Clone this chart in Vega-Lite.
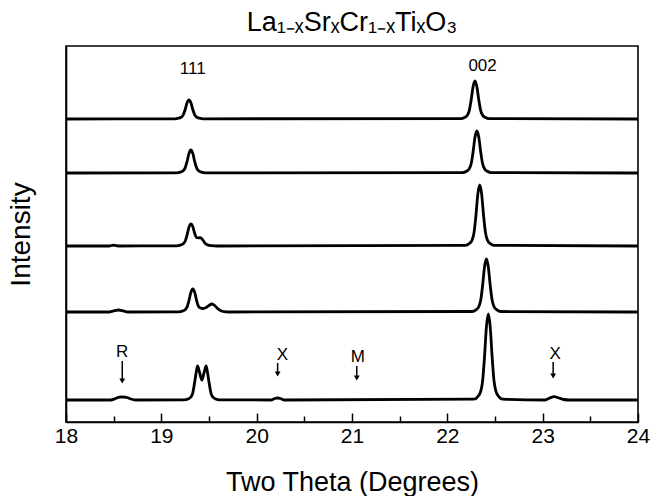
{
  "$schema": "https://vega.github.io/schema/vega-lite/v6.json",
  "width": 572,
  "height": 376,
  "autosize": {"type": "none"},
  "padding": {"left": 66, "top": 46, "right": 15, "bottom": 74},
  "background": "white",
  "title": {"text": "La₁₋ₓSrₓCr₁₋ₓTiₓO₃", "font": "Liberation Sans", "fontSize": 27, "fontWeight": "normal", "color": "black", "offset": 9},
  "config": {
    "view": {"stroke": "black", "strokeWidth": 1.6},
    "font": "Liberation Sans"
  },
  "datasets": {
    "traces": [
      {"s": "A", "theta": 18.0, "intensity": 303},
      {"s": "A", "theta": 19.14, "intensity": 303.2},
      {"s": "A", "theta": 19.18, "intensity": 303.8},
      {"s": "A", "theta": 19.21, "intensity": 304.9},
      {"s": "A", "theta": 19.23, "intensity": 307.2},
      {"s": "A", "theta": 19.25, "intensity": 312.5},
      {"s": "A", "theta": 19.27, "intensity": 319.2},
      {"s": "A", "theta": 19.29, "intensity": 322},
      {"s": "A", "theta": 19.31, "intensity": 319.2},
      {"s": "A", "theta": 19.33, "intensity": 312.5},
      {"s": "A", "theta": 19.35, "intensity": 307.2},
      {"s": "A", "theta": 19.37, "intensity": 304.9},
      {"s": "A", "theta": 19.40, "intensity": 303.8},
      {"s": "A", "theta": 19.44, "intensity": 303.2},
      {"s": "A", "theta": 22.14, "intensity": 303.4},
      {"s": "A", "theta": 22.18, "intensity": 304.5},
      {"s": "A", "theta": 22.21, "intensity": 306.8},
      {"s": "A", "theta": 22.23, "intensity": 311.4},
      {"s": "A", "theta": 22.25, "intensity": 322},
      {"s": "A", "theta": 22.27, "intensity": 335.3},
      {"s": "A", "theta": 22.29, "intensity": 341},
      {"s": "A", "theta": 22.31, "intensity": 335.3},
      {"s": "A", "theta": 22.33, "intensity": 322},
      {"s": "A", "theta": 22.35, "intensity": 311.4},
      {"s": "A", "theta": 22.37, "intensity": 306.8},
      {"s": "A", "theta": 22.40, "intensity": 304.5},
      {"s": "A", "theta": 22.44, "intensity": 303.4},
      {"s": "A", "theta": 24.0, "intensity": 303},

      {"s": "B", "theta": 18.0, "intensity": 249},
      {"s": "B", "theta": 19.16, "intensity": 249.2},
      {"s": "B", "theta": 19.20, "intensity": 249.9},
      {"s": "B", "theta": 19.23, "intensity": 251.3},
      {"s": "B", "theta": 19.25, "intensity": 254.1},
      {"s": "B", "theta": 19.27, "intensity": 260.5},
      {"s": "B", "theta": 19.29, "intensity": 268.6},
      {"s": "B", "theta": 19.31, "intensity": 272},
      {"s": "B", "theta": 19.33, "intensity": 268.6},
      {"s": "B", "theta": 19.35, "intensity": 260.5},
      {"s": "B", "theta": 19.37, "intensity": 254.1},
      {"s": "B", "theta": 19.39, "intensity": 251.3},
      {"s": "B", "theta": 19.42, "intensity": 249.9},
      {"s": "B", "theta": 19.46, "intensity": 249.2},
      {"s": "B", "theta": 22.16, "intensity": 249.4},
      {"s": "B", "theta": 22.20, "intensity": 250.7},
      {"s": "B", "theta": 22.23, "intensity": 253.2},
      {"s": "B", "theta": 22.25, "intensity": 258.2},
      {"s": "B", "theta": 22.27, "intensity": 270},
      {"s": "B", "theta": 22.29, "intensity": 284.7},
      {"s": "B", "theta": 22.31, "intensity": 291},
      {"s": "B", "theta": 22.33, "intensity": 284.7},
      {"s": "B", "theta": 22.35, "intensity": 270},
      {"s": "B", "theta": 22.37, "intensity": 258.2},
      {"s": "B", "theta": 22.39, "intensity": 253.2},
      {"s": "B", "theta": 22.42, "intensity": 250.7},
      {"s": "B", "theta": 22.46, "intensity": 249.4},
      {"s": "B", "theta": 24.0, "intensity": 249},

      {"s": "C", "theta": 18.0, "intensity": 176},
      {"s": "C", "theta": 18.45, "intensity": 176},
      {"s": "C", "theta": 18.5, "intensity": 176.8},
      {"s": "C", "theta": 18.55, "intensity": 176},
      {"s": "C", "theta": 19.16, "intensity": 176.2},
      {"s": "C", "theta": 19.20, "intensity": 176.9},
      {"s": "C", "theta": 19.23, "intensity": 178.2},
      {"s": "C", "theta": 19.25, "intensity": 180.8},
      {"s": "C", "theta": 19.27, "intensity": 187},
      {"s": "C", "theta": 19.29, "intensity": 194.7},
      {"s": "C", "theta": 19.31, "intensity": 198},
      {"s": "C", "theta": 19.33, "intensity": 195.4},
      {"s": "C", "theta": 19.35, "intensity": 188.5},
      {"s": "C", "theta": 19.37, "intensity": 184.3},
      {"s": "C", "theta": 19.39, "intensity": 184.2},
      {"s": "C", "theta": 19.41, "intensity": 184.3},
      {"s": "C", "theta": 19.43, "intensity": 182.7},
      {"s": "C", "theta": 19.45, "intensity": 179.9},
      {"s": "C", "theta": 19.47, "intensity": 177.8},
      {"s": "C", "theta": 19.49, "intensity": 176.9},
      {"s": "C", "theta": 19.53, "intensity": 176.3},
      {"s": "C", "theta": 19.58, "intensity": 176},
      {"s": "C", "theta": 22.19, "intensity": 176.6},
      {"s": "C", "theta": 22.23, "intensity": 178.4},
      {"s": "C", "theta": 22.26, "intensity": 182.1},
      {"s": "C", "theta": 22.28, "intensity": 189.4},
      {"s": "C", "theta": 22.30, "intensity": 206.5},
      {"s": "C", "theta": 22.32, "intensity": 227.9},
      {"s": "C", "theta": 22.34, "intensity": 237},
      {"s": "C", "theta": 22.36, "intensity": 227.9},
      {"s": "C", "theta": 22.38, "intensity": 206.5},
      {"s": "C", "theta": 22.40, "intensity": 189.4},
      {"s": "C", "theta": 22.42, "intensity": 182.1},
      {"s": "C", "theta": 22.45, "intensity": 178.4},
      {"s": "C", "theta": 22.49, "intensity": 176.6},
      {"s": "C", "theta": 24.0, "intensity": 176},

      {"s": "D", "theta": 18.0, "intensity": 110},
      {"s": "D", "theta": 18.45, "intensity": 110},
      {"s": "D", "theta": 18.50, "intensity": 111.2},
      {"s": "D", "theta": 18.55, "intensity": 112},
      {"s": "D", "theta": 18.60, "intensity": 111.2},
      {"s": "D", "theta": 18.65, "intensity": 110},
      {"s": "D", "theta": 19.18, "intensity": 110.2},
      {"s": "D", "theta": 19.22, "intensity": 110.9},
      {"s": "D", "theta": 19.25, "intensity": 112.3},
      {"s": "D", "theta": 19.27, "intensity": 115.1},
      {"s": "D", "theta": 19.29, "intensity": 121.5},
      {"s": "D", "theta": 19.31, "intensity": 129.6},
      {"s": "D", "theta": 19.33, "intensity": 133},
      {"s": "D", "theta": 19.35, "intensity": 129.6},
      {"s": "D", "theta": 19.37, "intensity": 121.5},
      {"s": "D", "theta": 19.39, "intensity": 115.5},
      {"s": "D", "theta": 19.41, "intensity": 114},
      {"s": "D", "theta": 19.44, "intensity": 113.5},
      {"s": "D", "theta": 19.47, "intensity": 114.5},
      {"s": "D", "theta": 19.50, "intensity": 116.5},
      {"s": "D", "theta": 19.53, "intensity": 118},
      {"s": "D", "theta": 19.56, "intensity": 116.5},
      {"s": "D", "theta": 19.59, "intensity": 113.5},
      {"s": "D", "theta": 19.62, "intensity": 111.5},
      {"s": "D", "theta": 19.66, "intensity": 110.3},
      {"s": "D", "theta": 19.70, "intensity": 110},
      {"s": "D", "theta": 22.26, "intensity": 110.5},
      {"s": "D", "theta": 22.30, "intensity": 112.1},
      {"s": "D", "theta": 22.33, "intensity": 115.3},
      {"s": "D", "theta": 22.35, "intensity": 121.7},
      {"s": "D", "theta": 22.37, "intensity": 136.5},
      {"s": "D", "theta": 22.39, "intensity": 155},
      {"s": "D", "theta": 22.41, "intensity": 163},
      {"s": "D", "theta": 22.43, "intensity": 155},
      {"s": "D", "theta": 22.45, "intensity": 136.5},
      {"s": "D", "theta": 22.47, "intensity": 121.7},
      {"s": "D", "theta": 22.49, "intensity": 115.3},
      {"s": "D", "theta": 22.52, "intensity": 112.1},
      {"s": "D", "theta": 22.56, "intensity": 110.5},
      {"s": "D", "theta": 24.0, "intensity": 110},

      {"s": "E", "theta": 18.0, "intensity": 22},
      {"s": "E", "theta": 18.47, "intensity": 22},
      {"s": "E", "theta": 18.52, "intensity": 23.5},
      {"s": "E", "theta": 18.56, "intensity": 24.8},
      {"s": "E", "theta": 18.60, "intensity": 25},
      {"s": "E", "theta": 18.64, "intensity": 24.5},
      {"s": "E", "theta": 18.68, "intensity": 23},
      {"s": "E", "theta": 18.73, "intensity": 22},
      {"s": "E", "theta": 19.24, "intensity": 22.2},
      {"s": "E", "theta": 19.28, "intensity": 23},
      {"s": "E", "theta": 19.31, "intensity": 25},
      {"s": "E", "theta": 19.33, "intensity": 29},
      {"s": "E", "theta": 19.35, "intensity": 40},
      {"s": "E", "theta": 19.37, "intensity": 52},
      {"s": "E", "theta": 19.38, "intensity": 56},
      {"s": "E", "theta": 19.40, "intensity": 50},
      {"s": "E", "theta": 19.425, "intensity": 42},
      {"s": "E", "theta": 19.45, "intensity": 50},
      {"s": "E", "theta": 19.47, "intensity": 56},
      {"s": "E", "theta": 19.48, "intensity": 52},
      {"s": "E", "theta": 19.50, "intensity": 40},
      {"s": "E", "theta": 19.52, "intensity": 29},
      {"s": "E", "theta": 19.54, "intensity": 25},
      {"s": "E", "theta": 19.57, "intensity": 23},
      {"s": "E", "theta": 19.61, "intensity": 22.2},
      {"s": "E", "theta": 20.15, "intensity": 22},
      {"s": "E", "theta": 20.19, "intensity": 23.5},
      {"s": "E", "theta": 20.22, "intensity": 24},
      {"s": "E", "theta": 20.25, "intensity": 23.5},
      {"s": "E", "theta": 20.29, "intensity": 22},
      {"s": "E", "theta": 22.28, "intensity": 22.9},
      {"s": "E", "theta": 22.32, "intensity": 25.4},
      {"s": "E", "theta": 22.35, "intensity": 30.6},
      {"s": "E", "theta": 22.37, "intensity": 40.9},
      {"s": "E", "theta": 22.39, "intensity": 65},
      {"s": "E", "theta": 22.41, "intensity": 95},
      {"s": "E", "theta": 22.43, "intensity": 108},
      {"s": "E", "theta": 22.45, "intensity": 95},
      {"s": "E", "theta": 22.47, "intensity": 65},
      {"s": "E", "theta": 22.49, "intensity": 40.9},
      {"s": "E", "theta": 22.51, "intensity": 30.6},
      {"s": "E", "theta": 22.54, "intensity": 25.4},
      {"s": "E", "theta": 22.58, "intensity": 22.9},
      {"s": "E", "theta": 23.02, "intensity": 22},
      {"s": "E", "theta": 23.07, "intensity": 23.8},
      {"s": "E", "theta": 23.12, "intensity": 25.3},
      {"s": "E", "theta": 23.17, "intensity": 24},
      {"s": "E", "theta": 23.22, "intensity": 22.5},
      {"s": "E", "theta": 23.28, "intensity": 22},
      {"s": "E", "theta": 24.0, "intensity": 22}
    ],
    "peaklabels": [
      {"label": "111", "theta": 19.33, "intensity": 353},
      {"label": "002", "theta": 22.37, "intensity": 356}
    ],
    "arrows": [
      {"label": "R", "theta": 18.59, "ltheta": 18.59, "intensity": 61, "intensity2": 41, "lint": 70},
      {"label": "X", "theta": 20.22, "ltheta": 20.27, "intensity": 59, "intensity2": 48, "lint": 67},
      {"label": "M", "theta": 21.05, "ltheta": 21.06, "intensity": 56, "intensity2": 44, "lint": 65},
      {"label": "X", "theta": 23.11, "ltheta": 23.13, "intensity": 60, "intensity2": 46, "lint": 68}
    ]
  },
  "layer": [
    {
      "data": {"name": "traces"},
      "mark": {"type": "line", "color": "black", "strokeWidth": 2.8, "interpolate": "monotone"},
      "encoding": {
        "x": {
          "field": "theta", "type": "quantitative",
          "scale": {"domain": [18, 24], "nice": false},
          "axis": {
            "title": "Two Theta (Degrees)",
            "titleFont": "Liberation Sans", "titleFontSize": 27, "titleFontWeight": "normal", "titleColor": "black",
            "titlePadding": 20,
            "values": [18, 18.5, 19, 19.5, 20, 20.5, 21, 21.5, 22, 22.5, 23, 23.5, 24],
            "labelExpr": "datum.value % 1 === 0 ? format(datum.value, 'd') : ''",
            "labelFont": "Liberation Sans", "labelFontSize": 21, "labelColor": "black",
            "labelPadding": 12,
            "labelFlush": false,
            "labelOverlap": false,
            "tickSize": {"condition": {"test": "datum.value % 1 === 0", "value": -9}, "value": -6},
            "tickColor": "black", "tickWidth": 1.5,
            "domainColor": "black", "domainWidth": 1.6,
            "grid": false
          }
        },
        "y": {
          "field": "intensity", "type": "quantitative",
          "scale": {"domain": [0, 376], "nice": false},
          "axis": {
            "title": "Intensity",
            "titleFont": "Liberation Sans", "titleFontSize": 28, "titleFontWeight": "normal", "titleColor": "black",
            "titlePadding": 31,
            "labels": false, "ticks": false, "grid": false,
            "domainColor": "black", "domainWidth": 1.6
          }
        },
        "detail": {"field": "s"}
      }
    },
    {
      "data": {"name": "peaklabels"},
      "mark": {"type": "text", "font": "Liberation Sans", "fontSize": 17, "color": "black", "baseline": "middle"},
      "encoding": {
        "x": {"field": "theta", "type": "quantitative"},
        "y": {"field": "intensity", "type": "quantitative"},
        "text": {"field": "label"}
      }
    },
    {
      "data": {"name": "arrows"},
      "mark": {"type": "rule", "color": "black", "strokeWidth": 1.5},
      "encoding": {
        "x": {"field": "theta", "type": "quantitative"},
        "y": {"field": "intensity", "type": "quantitative"},
        "y2": {"field": "intensity2"}
      }
    },
    {
      "data": {"name": "arrows"},
      "mark": {"type": "point", "shape": "triangle-down", "filled": true, "color": "black", "size": 34, "opacity": 1},
      "encoding": {
        "x": {"field": "theta", "type": "quantitative"},
        "y": {"field": "intensity2", "type": "quantitative"}
      }
    },
    {
      "data": {"name": "arrows"},
      "mark": {"type": "text", "font": "Liberation Sans", "fontSize": 17, "color": "black", "baseline": "middle"},
      "encoding": {
        "x": {"field": "ltheta", "type": "quantitative"},
        "y": {"field": "lint", "type": "quantitative"},
        "text": {"field": "label"}
      }
    }
  ]
}
